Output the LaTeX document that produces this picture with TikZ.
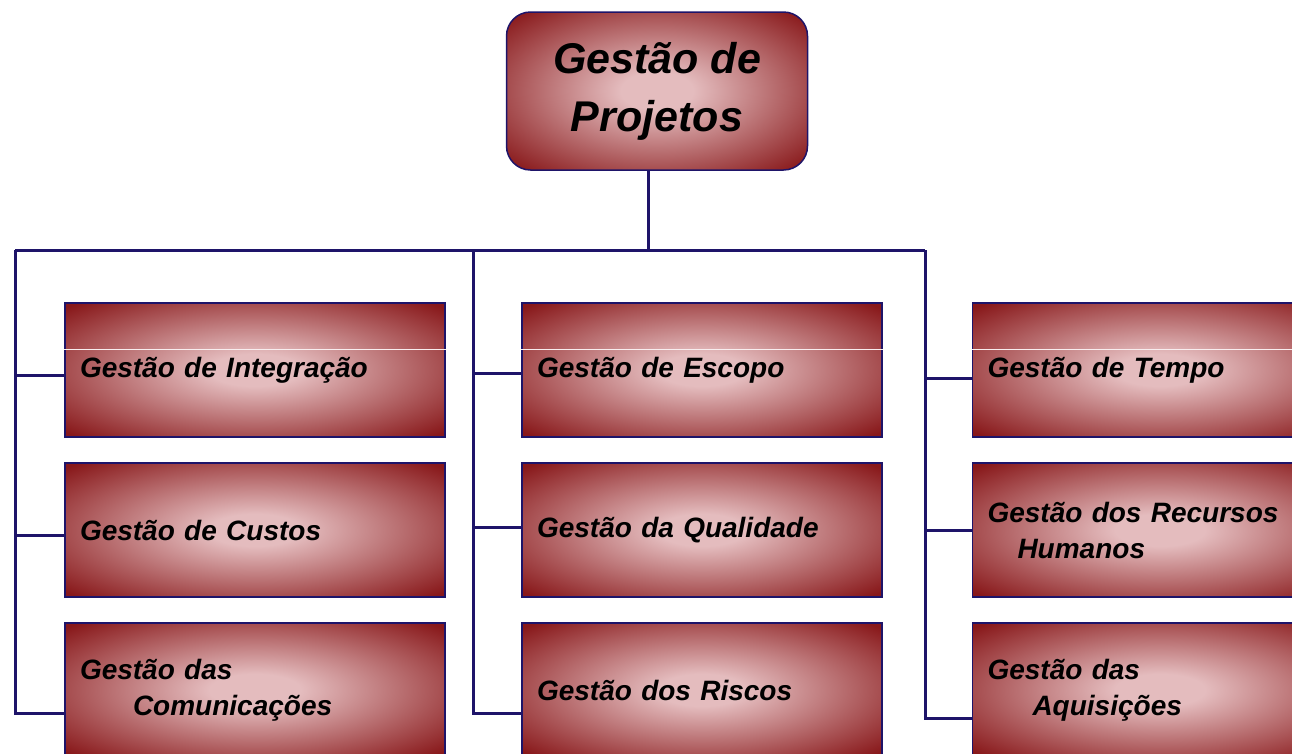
\documentclass[tikz,border=0pt]{standalone}
\usepackage{fontspec}
\setmainfont{Liberation Sans}
\usetikzlibrary{calc}
\definecolor{wine}{RGB}{136,24,26}
\definecolor{rose}{RGB}{228,188,190}
\definecolor{navy}{RGB}{30,20,105}
\pgfdeclareradialshading{glow}{\pgfpoint{0bp}{0bp}}{color(0bp)=(rose); color(6bp)=(rose); color(34bp)=(wine); color(80bp)=(wine)}
\tikzset{every picture/.style={line width=0.75pt}}

\begin{document}
\begin{tikzpicture}[x=1pt,y=1pt,yscale=-1,
		link/.style={draw=navy, line width=3pt},
		shine/.style={draw=white!75!rose, line width=1.5pt},
		head/.style={draw=navy, line width=1.5pt, rounded corners=24pt, shading=glow, minimum width=301pt, minimum height=158pt, align=center, font=\fontsize{43}{58}\selectfont\bfseries\itshape},
		area/.style={draw=navy, line width=1.5pt, shading=glow, minimum height=134pt, inner xsep=15pt, align=left, font=\fontsize{28}{36}\selectfont\bfseries\itshape}]
		\useasboundingbox (0,0) rectangle (1292,753);
		
		% top box
		\node[head] (top) at (657,91) {Gestão de\\Projetos};
		
		% first column
		\node[area, text width=350pt] (integ) at (255,370) {Gestão de Integração};
		\node[area, text width=350pt] (custos) at (255,530) {Gestão de Custos};
		\node[area, text width=350pt] (comun) at (255,690) {Gestão das\\\hspace*{53pt}Comunicações};
		% second column
		\node[area, text width=330pt] (escopo) at (702,370) {Gestão de Escopo};
		\node[area, text width=330pt] (quali) at (702,530) {Gestão da Qualidade};
		\node[area, text width=330pt] (riscos) at (702,690) {Gestão dos Riscos};
		% third column
		\node[area, text width=345pt] (tempo) at (1160,370) {Gestão de Tempo};
		\node[area, text width=345pt] (rh) at (1160,530) {Gestão dos Recursos\\\hspace*{30pt}Humanos};
		\node[area, text width=345pt] (aquis) at (1160,690) {Gestão das\\\hspace*{45pt}Aquisições};
		
		% highlights
		\draw[shine] ($(integ.north west)+(0,47)$) -- ($(integ.north east)+(0,47)$);
		\draw[shine] ($(escopo.north west)+(0,47)$) -- ($(escopo.north east)+(0,47)$);
		\draw[shine] ($(tempo.north west)+(0,47)$) -- ($(tempo.north east)+(0,47)$);
		
		% connectors
		\coordinate (bus) at (648,250);
		\coordinate (busL) at (15,250);
		\coordinate (busM) at (473,250);
		\coordinate (busR) at (925,250);
		\draw[link] (bus |- top.south) -- (bus);
		\draw[link] (busL) -- (busR);
		
		\draw[link] (busL) |- ($(comun.west)+(0,23)$);
		\draw[link] ($(busL |- integ.west)+(0,5)$) -- ($(integ.west)+(0,5)$);
		\draw[link] ($(busL |- custos.west)+(0,5)$) -- ($(custos.west)+(0,5)$);
		
		\draw[link] (busM) |- ($(riscos.west)+(0,23)$);
		\draw[link] ($(busM |- escopo.west)+(0,3)$) -- ($(escopo.west)+(0,3)$);
		\draw[link] ($(busM |- quali.west)+(0,-3)$) -- ($(quali.west)+(0,-3)$);
		
		\draw[link] (busR) |- ($(aquis.west)+(0,28)$);
		\draw[link] ($(busR |- tempo.west)+(0,8)$) -- ($(tempo.west)+(0,8)$);
		\draw[link] (busR |- rh.west) -- (rh.west);
\end{tikzpicture}
\end{document}
